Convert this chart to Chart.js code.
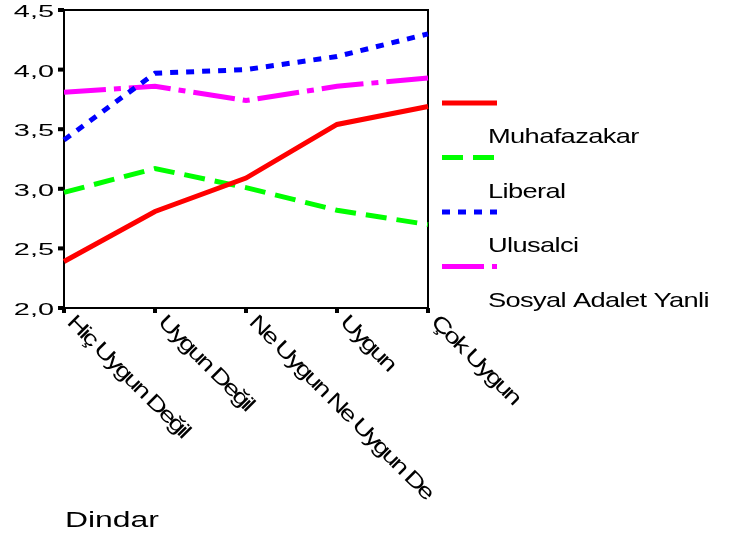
<!DOCTYPE html>
<html>
<head>
<meta charset="utf-8">
<script src="https://cdn.jsdelivr.net/npm/chart.js@4"></script>
<style>
  html, body { margin: 0; padding: 0; background: #fff; }
  #wrap { width: 729px; height: 538px; }
</style>
</head>
<body>
<div id="wrap"><canvas id="ch" width="729" height="538"></canvas></div>
<script>
// categories (Dindar)
const categories = ['Hiç Uygun Değil', 'Uygun Değil', 'Ne Uygun Ne Uygun De', 'Uygun', 'Çok Uygun'];
const seriesNames = ['Muhafazakar', 'Liberal', 'Ulusalci', 'Sosyal Adalet Yanli'];

const muhafazakar = [2.39, 2.81, 3.09, 3.54, 3.69];
const liberal     = [2.97, 3.17, 3.01, 2.82, 2.70];
const ulusalci    = [3.41, 3.97, 4.00, 4.11, 4.30];
const sosyal      = [3.81, 3.86, 3.74, 3.86, 3.93];

const yTicks = [2.0, 2.5, 3.0, 3.5, 4.0, 4.5];
const yTickLabels = ['2,0', '2,5', '3,0', '3,5', '4,0', '4,5'];
const axisTitle = 'Dindar';

// draw horizontally stretched text (the original render is wide)
function wideText(ctx, str, x, y, px, sx, ls, align) {
    ctx.save();
    ctx.translate(x, y);
    ctx.scale(sx, 1);
    ctx.font = px + 'px "Liberation Sans", Arial, sans-serif';
    ctx.letterSpacing = ls + 'px';
    ctx.textAlign = align || 'left';
    ctx.textBaseline = 'alphabetic';
    ctx.fillStyle = '#000';
    ctx.fillText(str, 0, 0);
    ctx.restore();
}

const framePlugin = {
    id: 'frame',
    beforeDatasetsDraw(chart) {
        const { ctx, chartArea: a, scales } = chart;
        ctx.save();
        ctx.strokeStyle = '#000';
        ctx.lineWidth = 2;
        ctx.strokeRect(a.left, a.top, a.right - a.left, a.bottom - a.top);
        ctx.fillStyle = '#000';
        yTicks.forEach(v => {
            const y = scales.y.getPixelForValue(v);
            ctx.fillRect(a.left - 6, y - 2, 6, 4);
        });
        categories.forEach((c, i) => {
            const x = scales.x.getPixelForValue(i);
            ctx.fillRect(x - 2, a.bottom, 4, 5);
        });
        ctx.restore();
    },
    afterDraw(chart) {
        const { ctx, chartArea: a, scales } = chart;
        // y tick labels
        yTicks.forEach((v, i) => {
            const y = scales.y.getPixelForValue(v);
            wideText(ctx, yTickLabels[i], a.left - 10, y + 7, 17, 1.7, 0, 'right');
        });
        // x tick labels, rotated clockwise
        categories.forEach((c, i) => {
            const x = scales.x.getPixelForValue(i);
            ctx.save();
            ctx.translate(x + 6, a.bottom + 11);
            ctx.rotate(Math.PI / 4);
            ctx.scale(1.35, 1);
            ctx.font = '21px "Liberation Sans", Arial, sans-serif';
            ctx.letterSpacing = '-2px';
            ctx.textAlign = 'left';
            ctx.textBaseline = 'middle';
            ctx.fillStyle = '#000';
            ctx.fillText(c, 0, 0);
            ctx.restore();
        });
        wideText(ctx, axisTitle, 65, 527, 22, 1.45, 0, 'left');
        // legend: sample line, then its name underneath
        chart.data.datasets.forEach((ds, i) => {
            const ly = 103 + i * 54.5;
            ctx.save();
            ctx.strokeStyle = ds.borderColor;
            ctx.lineWidth = 5;
            ctx.setLineDash(ds.borderDash || []);
            ctx.beginPath();
            ctx.moveTo(442, ly);
            ctx.lineTo(497, ly);
            ctx.stroke();
            ctx.restore();
            wideText(ctx, ds.label, 488, ly + 40, 21, 1.3, -0.5, 'left');
        });
    }
};

const mk = (label, data, color, dash) => ({
    label, data,
    borderColor: color,
    borderWidth: 5,
    borderDash: dash,
    borderCapStyle: 'butt',
    borderJoinStyle: 'miter',
    pointRadius: 0,
    tension: 0,
    fill: false
});

new Chart(document.getElementById('ch'), {
    type: 'line',
    data: {
        labels: categories,
        datasets: [
            mk(seriesNames[0], muhafazakar, '#ff0000', []),
            mk(seriesNames[1], liberal, '#00ff00', [21, 10]),
            mk(seriesNames[2], ulusalci, '#0000ff', [8, 8]),
            mk(seriesNames[3], sosyal, '#ff00ff', [42, 8, 7, 8])
        ]
    },
    options: {
        responsive: false,
        animation: false,
        layout: { padding: { left: 64, right: 301, top: 10, bottom: 230 } },
        scales: {
            x: { type: 'category', display: false, offset: false },
            y: { display: false, min: 2, max: 4.5 }
        },
        plugins: {
            legend: { display: false },
            tooltip: { enabled: false }
        }
    },
    plugins: [framePlugin]
});
</script>
</body>
</html>
